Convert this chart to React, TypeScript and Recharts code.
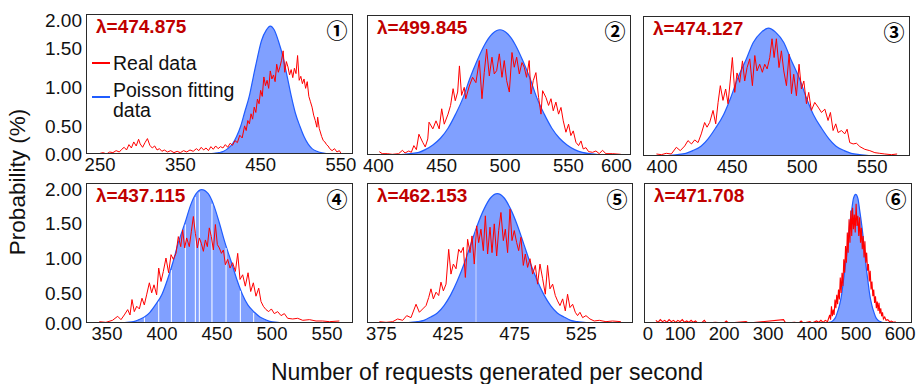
import React from "react";
import { Area, ComposedChart, Line, ReferenceLine, XAxis, YAxis } from "recharts";

type Pt = [number, number];

const FONT = '"Liberation Sans", Arial, sans-serif';
const RED = "#ff0000";
const BLUE_FILL = "#80a0ff";
const BLUE_LINE = "#1f5cff";

const yLabels = ["0.00", "0.50", "1.00", "1.50", "2.00"];
const yTicksTop = [0, 0.42, 1.0, 1.58, 2.0];
const yTicksBottom = [0, 0.45, 0.97, 1.49, 1.99];

const lambdas = ["λ=474.875", "λ=499.845", "λ=474.127", "λ=437.115", "λ=462.153", "λ=471.708"];
const marks = ["①", "②", "③", "④", "⑤", "⑥"];

// panel 1
const real1: Pt[] = [[250,0.01],[254,0.02],[258,0.00],[262,0.03],[266,0.02],[270,0.05],[274,0.03],[277,0.07],[280,0.10],[283,0.06],[286,0.14],[289,0.09],[292,0.18],[295,0.12],[298,0.22],[300,0.15],[303,0.10],[306,0.17],[309,0.23],[312,0.13],[315,0.09],[318,0.12],[321,0.06],[324,0.08],[327,0.04],[330,0.06],[334,0.03],[338,0.05],[342,0.02],[346,0.04],[350,0.02],[354,0.05],[358,0.03],[362,0.06],[366,0.04],[370,0.08],[373,0.05],[376,0.10],[379,0.06],[382,0.09],[385,0.05],[388,0.11],[391,0.07],[394,0.12],[397,0.08],[400,0.11],[403,0.09],[406,0.14],[409,0.10],[412,0.16],[415,0.13],[418,0.20],[421,0.17],[424,0.28],[427,0.24],[430,0.42],[432,0.35],[434,0.50],[436,0.45],[438,0.60],[440,0.52],[442,0.70],[444,0.62],[446,0.82],[448,0.75],[450,0.95],[452,0.86],[454,1.15],[456,1.02],[458,1.10],[460,0.98],[462,1.24],[464,1.12],[466,1.18],[468,1.08],[470,1.34],[472,1.22],[474,1.30],[476,1.40],[478,1.54],[480,1.22],[482,1.38],[484,1.30],[486,1.18],[488,1.26],[490,1.14],[492,1.28],[494,1.20],[496,1.47],[498,1.10],[500,1.16],[502,1.05],[504,1.12],[506,0.98],[508,1.08],[510,0.86],[512,0.78],[514,0.70],[516,0.58],[518,0.50],[520,0.40],[521,0.55],[523,0.38],[526,0.26],[528,0.20],[530,0.18],[532,0.14],[534,0.12],[536,0.08],[539,0.05],[542,0.08],[545,0.03],[548,0.05],[550,0.01]];
const fit1: Pt[] = [[385,0],[392,0.01],[398,0.02],[404,0.04],[409,0.08],[415,0.15],[420,0.26],[425,0.41],[430,0.62],[436,0.87],[441,1.16],[446,1.44],[451,1.69],[457,1.85],[462,1.91],[467,1.85],[472,1.69],[478,1.44],[483,1.16],[488,0.87],[493,0.62],[499,0.41],[504,0.26],[509,0.15],[514,0.08],[520,0.04],[525,0.02],[530,0.01],[536,0],[548,0]];

// panel 2
const real2: Pt[] = [[400.7,0.05],[403,0.02],[407,0.02],[411,0.01],[416,0.02],[419,0.07],[421,0.03],[424,0.06],[426,0.04],[428,0.14],[430,0.08],[432,0.31],[435,0.19],[437,0.12],[439,0.24],[440,0.49],[443,0.39],[445.5,0.51],[448,0.39],[450,0.69],[452,0.46],[455,0.61],[457,0.74],[459,0.99],[460.7,0.81],[462.6,0.94],[464,1.33],[465.7,0.89],[467.8,1.01],[469,0.84],[471.8,1.03],[474.4,1.16],[477,1.08],[479.7,1.41],[481.8,0.84],[483.6,1.23],[485.5,1.58],[487.6,1.18],[489.7,1.46],[491.5,1.21],[493.4,1.26],[495.5,1.51],[497.6,1.16],[499.4,1.41],[501.3,1.11],[503.4,0.94],[505.5,1.53],[507.3,1.31],[509.2,1.46],[511.3,1.21],[513.4,1.38],[515.2,1.31],[517,1.16],[519.1,1.41],[520.5,0.91],[522.3,1.11],[524.4,1.23],[526.5,0.86],[528.4,0.61],[529.7,0.96],[532.3,0.86],[534.4,0.74],[536.3,0.84],[538.1,0.66],[540.2,0.79],[542.3,0.61],[544.2,0.71],[546,0.51],[548.1,0.34],[550.2,0.46],[552,0.29],[553.9,0.36],[556,0.19],[558.1,0.14],[560,0.21],[561.8,0.09],[563.9,0.11],[566,0.05],[569.2,0.04],[571.8,0.06],[574.4,0.02],[577,0.07],[579.7,0.02],[585,0.02],[591.5,0.01]];
const fit2: Pt[] = [[405,0],[414,0.00],[420,0.01],[425,0.02],[432,0.04],[437,0.08],[443,0.15],[449,0.25],[455,0.40],[461,0.61],[467,0.86],[472,1.13],[478,1.41],[484,1.65],[490,1.81],[496,1.87],[502,1.81],[508,1.65],[514,1.41],[520,1.13],[525,0.86],[531,0.61],[537,0.40],[543,0.25],[549,0.15],[555,0.08],[561,0.04],[567,0.02],[572,0.01],[578,0],[592,0]];

// panel 3
const real3: Pt[] = [[396,0.03],[399.5,0.02],[403,0.04],[406.6,0.03],[410.2,0.13],[413,0.08],[416.2,0.15],[418.5,0.23],[421,0.18],[423.3,0.24],[425.7,0.20],[428,0.33],[430.4,0.50],[432.1,0.43],[434,0.50],[436.4,0.68],[438.3,0.48],[440,0.80],[441.6,1.05],[443.5,0.83],[445.4,1.00],[447.1,0.78],[448.8,1.15],[450.2,1.47],[451.9,0.95],[453.5,1.24],[455.4,1.10],[457.4,1.42],[459,1.12],[460.7,1.32],[462.6,1.45],[464.5,1.05],[466.2,1.50],[467.8,1.27],[469.7,1.37],[471.6,1.25],[473.3,1.37],[475,1.30],[476.9,1.47],[478.5,1.75],[480,1.47],[481.6,1.75],[483.5,1.32],[485.2,1.57],[486.9,1.27],[488.8,1.05],[490.7,1.52],[492.4,0.93],[494,1.22],[495.9,0.90],[497.8,1.37],[499.5,1.00],[501.2,1.12],[503.1,0.78],[504.7,0.95],[506.6,0.68],[509,0.80],[511.4,0.73],[513.8,0.65],[516.2,0.70],[518.5,0.53],[520.2,0.65],[522.1,0.38],[524,0.48],[525.7,0.35],[528.1,0.38],[530.4,0.33],[532.1,0.40],[534,0.20],[536.4,0.18],[538.8,0.19],[541.2,0.14],[544.7,0.10],[548.3,0.08],[551.9,0.05],[555.4,0.04],[559,0.03],[563.8,0.02],[567.8,0.03]];
const fit3: Pt[] = [[395,0],[401,0.00],[406,0.01],[411,0.02],[417,0.04],[422,0.08],[428,0.15],[433,0.26],[438,0.41],[444,0.62],[449,0.87],[454,1.16],[460,1.44],[465,1.69],[471,1.85],[476,1.91],[481,1.85],[487,1.69],[492,1.44],[498,1.16],[503,0.87],[508,0.62],[514,0.41],[519,0.26],[524,0.15],[530,0.08],[535,0.04],[541,0.02],[546,0.01],[551,0],[568,0]];

// panel 4
const real4: Pt[] = [[343,0.02],[349,0.01],[355,0.04],[359.7,0.10],[362.7,0.05],[365.7,0.12],[368.8,0.20],[370.9,0.12],[372.7,0.35],[374.8,0.17],[377,0.25],[379.4,0.21],[381.8,0.37],[383.9,0.27],[386,0.42],[388.5,0.60],[390.6,0.45],[392.7,0.57],[395.1,0.42],[397,0.82],[399.1,0.62],[401.2,0.77],[403.6,0.97],[406,0.75],[408.2,1.02],[410.3,0.95],[412.7,1.04],[414.8,1.29],[417,1.14],[418.8,1.39],[420.6,1.12],[422.4,1.27],[424.8,1.14],[426.7,1.37],[428.5,1.59],[430.3,1.34],[432.1,1.12],[433.9,1.27],[435.7,1.19],[437.6,1.07],[439.4,1.24],[441.2,1.14],[443,1.42],[444.8,1.29],[446.7,1.09],[448.5,1.47],[450.3,1.17],[452.1,1.12],[454,1.04],[455.8,1.09],[457.6,0.87],[459.7,0.95],[461.8,0.82],[464.2,0.90],[466.7,0.77],[468.8,1.04],[470.9,0.65],[473.3,0.72],[475.7,0.55],[478.2,0.75],[480.6,0.47],[483,0.60],[485.4,0.40],[487.9,0.52],[490,0.32],[492.1,0.25],[494.5,0.20],[497,0.17],[499.4,0.21],[502.1,0.14],[505.1,0.17],[508.2,0.11],[511.2,0.14],[514.2,0.07],[518.8,0.06],[523.3,0.07],[527.9,0.04],[534,0.05],[540,0.03],[546,0.03],[552.1,0.02],[561.2,0.03]];
const fit4: Pt[] = [[356,0],[363,0.00],[368,0.01],[374,0.02],[379,0.05],[384,0.09],[389,0.16],[394,0.27],[400,0.43],[405,0.65],[410,0.91],[415,1.21],[421,1.50],[426,1.76],[431,1.93],[436,1.99],[442,1.93],[447,1.76],[452,1.50],[457,1.21],[463,0.91],[468,0.65],[473,0.43],[478,0.27],[484,0.16],[489,0.09],[494,0.05],[499,0.02],[505,0.01],[510,0],[520,0]];
const gaps4: Pt[] = [[384,0.08],[397,0.32],[408.5,0.79],[421.2,1.47],[430.3,1.88],[433.9,1.95],[445.4,1.78],[458.2,1.12],[471.2,0.48],[483.3,0.15]];

// panel 5
const real5: Pt[] = [[373.5,0.02],[378.5,0.01],[383.5,0.02],[387.2,0.06],[391,0.04],[394,0.11],[397.2,0.08],[401,0.28],[403.5,0.16],[406,0.21],[408.5,0.26],[410.5,0.38],[412.2,0.51],[414,0.36],[416,0.46],[418,0.41],[419.7,0.61],[421.5,0.48],[423.5,0.58],[425.5,1.10],[427.2,0.73],[429,0.88],[431,0.81],[433,1.10],[434.7,1.05],[436.5,1.13],[438,0.68],[439.7,1.25],[441.5,1.05],[443,1.30],[444.7,0.88],[446.5,1.45],[448,1.20],[449.7,1.40],[451.5,1.08],[453,1.60],[454.7,1.03],[456.5,1.43],[458,1.05],[459.7,1.48],[461.5,1.00],[463,1.38],[464.7,1.65],[466.5,1.23],[468,1.40],[469.7,1.05],[471.5,1.70],[473,1.23],[474.7,1.38],[476.5,1.20],[478,1.08],[479.7,1.28],[481.5,0.86],[483,1.03],[484.7,0.83],[486.5,0.96],[488.5,0.73],[490.5,0.86],[492.2,0.58],[494,0.88],[496,0.66],[498,0.43],[499.7,0.86],[501.5,0.51],[503.5,0.58],[505.5,0.41],[507.2,0.33],[509,0.26],[511,0.36],[513,0.18],[514.7,0.43],[516.5,0.23],[518.5,0.28],[520.5,0.16],[522.2,0.11],[524,0.16],[526,0.08],[528.5,0.11],[531.5,0.06],[534.7,0.03],[538.5,0.04],[543.5,0.02],[548.5,0.03],[554.7,0.02]];
const fit5: Pt[] = [[384,0],[392,0.00],[397,0.01],[402,0.02],[407,0.04],[412,0.09],[417,0.15],[422,0.26],[427,0.42],[432,0.63],[437,0.88],[442,1.17],[447,1.46],[452,1.70],[457,1.87],[462,1.93],[467,1.87],[472,1.70],[477,1.46],[482,1.17],[487,0.88],[492,0.63],[497,0.42],[502,0.26],[507,0.15],[512,0.09],[517,0.04],[522,0.02],[527,0.01],[532,0],[545,0]];
const gaps5: Pt[] = [[446,1.38]];

// panel 6
const real6: Pt[] = [[45,0.04],[50,0.01],[55,0.05],[60,0.02],[65,0.04],[70,0.01],[75,0.05],[80,0.02],[85,0.04],[90,0.01],[95,0.04],[100,0.02],[105,0.05],[110,0.01],[115,0.03],[120,0.01],[125,0.04],[130,0.01],[135,0.03],[140,0],[150,0.01],[155,0.04],[160,0],[180,0.01],[200,0],[205,0.03],[210,0],[250,0.02],[255,0],[335,0.05],[340,0],[360,0.01],[370,0],[375,0.03],[380,0],[395,0.02],[400,0],[410,0.03],[415,0.01],[420,0.04],[425,0.01],[430,0.04],[435,0.02],[440,0.12],[442,0.05],[444,0.25],[446,0.10],[448,0.20],[450,0.12],[452,0.35],[454,0.22],[456,0.42],[458,0.28],[460,0.50],[462,0.35],[464,0.68],[466,0.45],[468,0.75],[470,0.55],[472,0.95],[474,0.75],[476,1.15],[478,0.90],[480,1.35],[482,1.05],[484,1.55],[486,1.20],[488,1.68],[490,1.30],[492,1.72],[494,1.40],[496,1.62],[498,1.35],[500,1.78],[502,1.45],[504,1.60],[506,1.30],[508,1.58],[510,1.20],[512,1.42],[514,1.10],[516,1.30],[518,0.98],[520,1.22],[522,0.90],[524,1.05],[526,0.78],[528,0.88],[530,0.62],[532,0.78],[534,0.50],[536,0.62],[538,0.40],[540,0.50],[542,0.30],[544,0.40],[546,0.22],[548,0.32],[550,0.18],[552,0.30],[554,0.14],[556,0.22],[558,0.10],[560,0.16],[562,0.06],[565,0.09],[568,0.04],[572,0.05],[576,0.02],[580,0.03],[585,0.01],[590,0.02]];
const fit6: Pt[] = [[425,0],[434,0.00],[439,0.01],[444,0.02],[448,0.04],[453,0.08],[457,0.15],[462,0.26],[467,0.42],[471,0.62],[476,0.88],[481,1.16],[485,1.45],[490,1.69],[494,1.86],[499,1.92],[504,1.86],[508,1.69],[513,1.45],[518,1.16],[522,0.88],[527,0.62],[531,0.42],[536,0.26],[541,0.15],[545,0.08],[550,0.04],[555,0.02],[559,0.01],[564,0],[575,0]];

// x tick positions and the labels printed under them
const xTicks1 = [250, 350, 450, 550];
const xLabels1 = ["250", "350", "450", "550"];
const xTicks2 = [400, 450, 500, 550, 588];
const xLabels2 = ["400", "450", "500", "550", "600"];
const xTicks3 = [400, 450, 500, 550];
const xLabels3 = ["400", "450", "500", "550"];
const xTicks4 = [350, 400, 450, 500, 550];
const xLabels4 = ["350", "400", "450", "500", "550"];
const xTicks5 = [375, 425, 475, 525];
const xLabels5 = ["375", "425", "475", "525"];
const xTicks6 = [27, 100, 200, 300, 400, 500, 600];
const xLabels6 = ["0", "100", "200", "300", "400", "500", "600"];

const rows = (pts: Pt[]) => pts.map(([x, y]) => ({ x, y }));

type Box = { x: number; y: number; w: number; h: number };

type PanelProps = {
  idx: number;
  box: Box;
  xDomain: [number, number];
  xTicks: number[];
  xLabels: string[];
  yTicks?: number[];
  real: Pt[];
  fit: Pt[];
  gaps?: Pt[];
  gapColor?: string;
  redWidth?: number;
  legend?: boolean;
};

function Panel({ idx, box, xDomain, xTicks, xLabels, yTicks, real, fit, gaps = [], gapColor = "#fff", redWidth = 1, legend }: PanelProps) {
  const yW = yTicks ? 64 : 0;
  const pad = yTicks ? 0 : 18; // room for the first x label of inner panels
  const left = yW + pad;
  const top = 8;
  const right = 6;
  const axisH = 30;
  return (
    <div style={{ position: "absolute", left: box.x - left, top: box.y - top }}>
      <ComposedChart
        width={left + box.w + right}
        height={top + box.h + axisH}
        margin={{ top, right, bottom: 0, left: pad }}
      >
        <XAxis
          type="number"
          dataKey="x"
          domain={xDomain}
          ticks={xTicks}
          interval={0}
          allowDataOverflow
          axisLine={false}
          tickLine={false}
          tickSize={0}
          tickMargin={4}
          height={axisH}
          tickFormatter={(v) => xLabels[xTicks.indexOf(v as number)] ?? ""}
          tick={{ fill: "#111", fontSize: 18.5, fontFamily: FONT }}
        />
        <YAxis
          type="number"
          dataKey="y"
          domain={[0, 2.09]}
          ticks={yTicks ?? []}
          hide={!yTicks}
          width={yW}
          allowDataOverflow
          axisLine={false}
          tickLine={false}
          tickSize={0}
          tickMargin={4}
          tickFormatter={(v) => yLabels[(yTicks ?? []).indexOf(v as number)] ?? ""}
          tick={{ fill: "#111", fontSize: 19, fontFamily: FONT }}
        />
        <Area
          data={rows(fit)}
          dataKey="y"
          type="monotone"
          stroke={BLUE_LINE}
          strokeWidth={1.2}
          fill={BLUE_FILL}
          fillOpacity={1}
          dot={false}
          activeDot={false}
          isAnimationActive={false}
        />
        {gaps.map(([gx, gy]) => (
          <ReferenceLine
            key={gx}
            segment={[{ x: gx, y: 0 }, { x: gx, y: gy }]}
            stroke={gapColor}
            strokeWidth={1}
          />
        ))}
        <Line
          data={rows(real)}
          dataKey="y"
          type="linear"
          stroke={RED}
          strokeWidth={redWidth}
          dot={false}
          activeDot={false}
          isAnimationActive={false}
        />
      </ComposedChart>
      <div
        style={{
          position: "absolute",
          left,
          top,
          width: box.w,
          height: box.h,
          border: "1.5px solid #2a2a2a",
          boxSizing: "border-box",
          pointerEvents: "none",
        }}
      />
      <div
        style={{
          position: "absolute",
          left: left + 10,
          top: top + 3,
          fontFamily: FONT,
          fontWeight: 700,
          fontSize: 19,
          lineHeight: "20px",
          color: "#c00000",
          whiteSpace: "nowrap",
        }}
      >
        {lambdas[idx]}
      </div>
      <div
        style={{
          position: "absolute",
          left: left + box.w - 28,
          top: top + 3,
          width: 24,
          textAlign: "center",
          fontFamily: '"Noto Sans CJK SC", "DejaVu Sans", sans-serif',
          fontWeight: 700,
          fontSize: 21,
          lineHeight: "24px",
          color: "#000",
        }}
      >
        {marks[idx]}
      </div>
      {legend && (
        <div style={{ position: "absolute", left, top, fontFamily: FONT, fontSize: 19.5, color: "#111" }}>
          <div style={{ position: "absolute", left: 6, top: 48, width: 18, height: 2, background: RED }} />
          <div style={{ position: "absolute", left: 27, top: 38, lineHeight: "22px", whiteSpace: "nowrap" }}>Real data</div>
          <div style={{ position: "absolute", left: 6, top: 82, width: 18, height: 2, background: BLUE_LINE }} />
          <div style={{ position: "absolute", left: 27, top: 66, lineHeight: "20px", whiteSpace: "nowrap" }}>
            Poisson fitting
            <br />
            data
          </div>
        </div>
      )}
    </div>
  );
}

export default function App() {
  return (
    <div
      style={{
        position: "absolute",
        left: 0,
        top: 0,
        width: 917,
        height: 384,
        background: "#fff",
        fontFamily: FONT,
        overflow: "hidden",
      }}
    >
      <Panel idx={0} box={{ x: 86, y: 14, w: 267, h: 140 }} xDomain={[232.5, 565]} xTicks={xTicks1} xLabels={xLabels1} yTicks={yTicksTop} real={real1} fit={fit1} legend />
      <Panel idx={1} box={{ x: 367, y: 15, w: 264, h: 140 }} xDomain={[391, 599.5]} xTicks={xTicks2} xLabels={xLabels2} real={real2} fit={fit2} />
      <Panel idx={2} box={{ x: 643, y: 16, w: 267, h: 140 }} xDomain={[386.4, 577]} xTicks={xTicks3} xLabels={xLabels3} real={real3} fit={fit3} />
      <Panel idx={3} box={{ x: 86, y: 183, w: 267, h: 140 }} xDomain={[330.9, 573.6]} xTicks={xTicks4} xLabels={xLabels4} yTicks={yTicksBottom} real={real4} fit={fit4} gaps={gaps4} />
      <Panel idx={4} box={{ x: 367, y: 183, w: 266, h: 140 }} xDomain={[364.2, 563.8]} xTicks={xTicks5} xLabels={xLabels5} real={real5} fit={fit5} gaps={gaps5} gapColor="rgba(255,255,255,0.6)" />
      <Panel idx={5} box={{ x: 644, y: 183, w: 268, h: 140 }} xDomain={[18, 627]} xTicks={xTicks6} xLabels={xLabels6} real={real6} fit={fit6} redWidth={1.1} />
      <div
        style={{
          position: "absolute",
          left: 18,
          top: 182,
          transform: "translate(-50%, -50%) rotate(-90deg)",
          fontSize: 22.5,
          color: "#111",
          whiteSpace: "nowrap",
        }}
      >
        Probability (%)
      </div>
      <div
        style={{
          position: "absolute",
          left: 487,
          top: 372,
          transform: "translate(-50%, -50%)",
          fontSize: 23,
          color: "#111",
          whiteSpace: "nowrap",
        }}
      >
        Number of requests generated per second
      </div>
    </div>
  );
}
